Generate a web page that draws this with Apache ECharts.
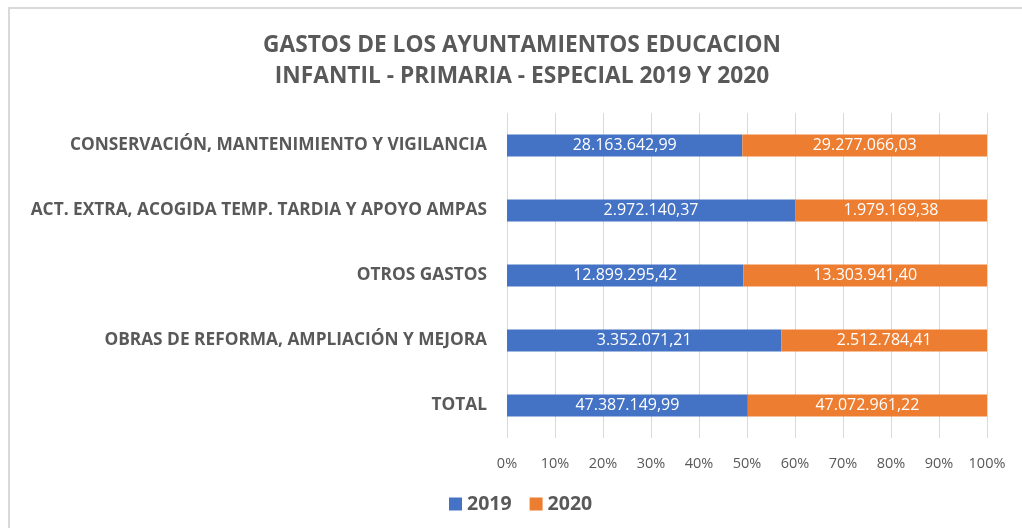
<!DOCTYPE html>
<html>
<head>
<meta charset="utf-8">
<script src="https://cdn.jsdelivr.net/npm/echarts@6/dist/echarts.min.js"></script>
<style>
  html, body { margin: 0; padding: 0; background: #ffffff; }
  #frame { position: absolute; left: 8px; top: 7px; right: 0; bottom: 0;
           border-left: 2px solid #d9d9d9; border-top: 2px solid #d9d9d9; }
  #chart { position: absolute; left: 0; top: 0; width: 1022px; height: 528px; }
</style>
</head>
<body>
<div id="frame"></div>
<div id="chart"></div>
<script>
var categories = [
  "CONSERVACIÓN, MANTENIMIENTO Y VIGILANCIA",
  "ACT. EXTRA, ACOGIDA TEMP. TARDIA Y APOYO AMPAS",
  "OTROS GASTOS",
  "OBRAS DE REFORMA, AMPLIACIÓN Y MEJORA",
  "TOTAL"
];
var gastos2019 = [28163642.99, 2972140.37, 12899295.42, 3352071.21, 47387149.99];
var gastos2020 = [29277066.03, 1979169.38, 13303941.40, 2512784.41, 47072961.22];

function fmt(v) {
  return v.toLocaleString("es-ES", { minimumFractionDigits: 2, maximumFractionDigits: 2, useGrouping: "always" });
}

// 100% stacked: share of each year within the row
function share(a, b) {
  return a.map(function (v, i) {
    return { value: v / (v + b[i]) * 100, raw: v };
  });
}

var myChart = echarts.init(document.getElementById("chart"));
var font = "'Open Sans', sans-serif";
var option = {
  backgroundColor: "transparent",
  textStyle: { fontFamily: font },
  title: {
    text: "GASTOS DE LOS AYUNTAMIENTOS EDUCACION\nINFANTIL - PRIMARIA - ESPECIAL 2019 Y 2020",
    left: 517,
    top: 25,
    textAlign: "center",
    textStyle: { fontFamily: font, fontSize: 22.7, fontWeight: "bold", color: "#595959", lineHeight: 31 }
  },
  legend: {
    bottom: 9,
    left: 444,
    itemWidth: 13,
    itemHeight: 13,
    itemGap: 18,
    icon: "rect",
    textStyle: { fontFamily: font, fontSize: 19.5, fontWeight: "bold", color: "#595959" },
    data: ["2019", "2020"]
  },
  grid: { left: 507, right: 35, top: 113, bottom: 90 },
  xAxis: {
    type: "value",
    min: 0,
    max: 100,
    interval: 10,
    axisLine: { show: false },
    axisTick: { show: false },
    splitLine: { lineStyle: { color: "#d9d9d9", width: 1 } },
    axisLabel: { formatter: "{value}%", color: "#595959", fontSize: 14.5, margin: 18, fontFamily: font }
  },
  yAxis: {
    type: "category",
    inverse: true,
    data: categories,
    axisLine: { show: false },
    axisTick: { show: false },
    axisLabel: { color: "#595959", fontSize: 17.3, fontWeight: "bold", margin: 20, fontFamily: font }
  },
  series: [
    {
      name: "2019",
      type: "bar",
      stack: "total",
      barWidth: 22,
      itemStyle: { color: "#4472c4" },
      label: { show: true, position: "inside", color: "#ffffff", fontSize: 16, fontFamily: font,
               formatter: function (p) { return fmt(p.data.raw); } },
      data: share(gastos2019, gastos2020)
    },
    {
      name: "2020",
      type: "bar",
      stack: "total",
      barWidth: 22,
      itemStyle: { color: "#ed7d31" },
      label: { show: true, position: "inside", color: "#ffffff", fontSize: 16, fontFamily: font,
               formatter: function (p) { return fmt(p.data.raw); } },
      data: share(gastos2020, gastos2019)
    }
  ]
};
myChart.setOption(option);
</script>
</body>
</html>
